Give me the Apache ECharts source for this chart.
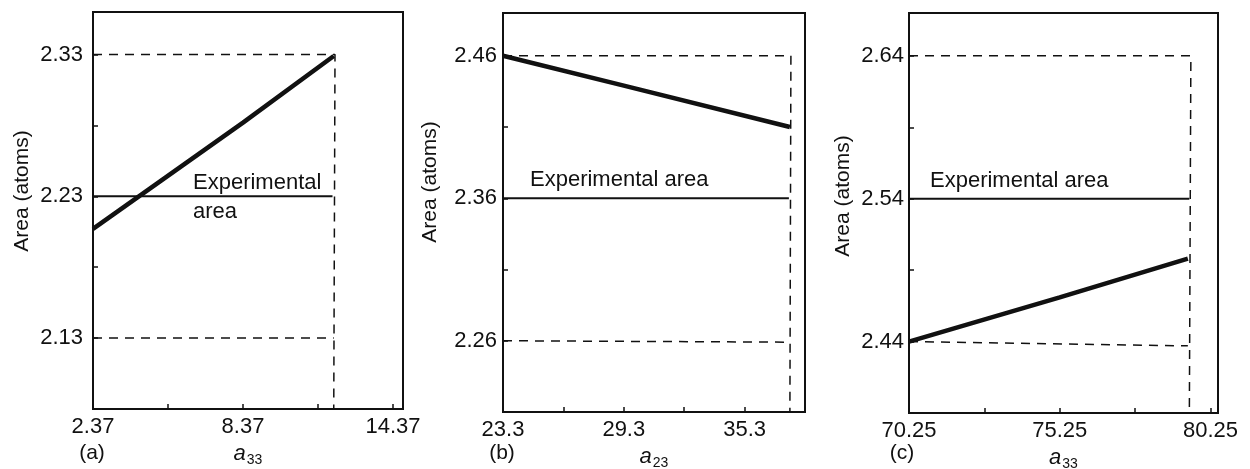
<!DOCTYPE html>
<html>
<head>
<meta charset="utf-8">
<script src="https://cdn.jsdelivr.net/npm/echarts@6/dist/echarts.min.js"></script>
<style>
  html, body { margin: 0; padding: 0; background: #fff; }
  #chart { width: 1250px; height: 469px; }
</style>
</head>
<body>
<div id="chart"></div>
<script>
// panel (a)
const aCurve = [[2.37, 2.207], [8.37, 2.282], [12.0, 2.329]]
const aExperimental = [[2.37, 2.23], [11.95, 2.23]]
const aUpper = [[2.37, 2.33], [12.05, 2.33], [12.0, 2.08]]
const aLower = [[2.37, 2.13], [12.0, 2.13]]
const aXLabels = ['2.37', '8.37', '14.37']
const aYLabels = ['2.13', '2.23', '2.33']

// panel (b)
const bCurve = [[23.3, 2.46], [29.3, 2.439], [37.55, 2.41]]
const bExperimental = [[23.3, 2.36], [37.5, 2.36]]
const bUpper = [[23.3, 2.46], [37.6, 2.46], [37.55, 2.21]]
const bLower = [[23.3, 2.26], [37.55, 2.259]]
const bXLabels = ['23.3', '29.3', '35.3']
const bYLabels = ['2.26', '2.36', '2.46']

// panel (c)
const cCurve = [[70.25, 2.44], [75.25, 2.471], [79.5, 2.498]]
const cExperimental = [[70.25, 2.54], [79.55, 2.54]]
const cUpper = [[70.25, 2.64], [79.6, 2.64], [79.55, 2.39]]
const cLower = [[70.25, 2.44], [79.5, 2.437]]
const cXLabels = ['70.25', '75.25', '80.25']
const cYLabels = ['2.44', '2.54', '2.64']

const FONT = "'Liberation Sans', Arial, sans-serif"
const INK = '#111'

const pickLabel = (list) => (val) => {
  const hit = list.find(s => Math.abs(parseFloat(s) - val) < 1e-6)
  return hit || ''
}

const makeX = (idx, min, max, interval, labels) => ({
  type: 'value',
  gridIndex: idx,
  min: min,
  max: max,
  interval: interval,
  splitLine: { show: false },
  axisLine: { lineStyle: { color: INK, width: 2 } },
  axisTick: { inside: true, length: 5, lineStyle: { color: INK, width: 1.5 } },
  axisLabel: { formatter: pickLabel(labels), color: INK, fontSize: 22, fontFamily: FONT, margin: 7 }
})

const makeY = (idx, min, max, labels, margin) => ({
  type: 'value',
  gridIndex: idx,
  min: min,
  max: max,
  interval: 0.05,
  splitLine: { show: false },
  axisLine: { lineStyle: { color: INK, width: 2 } },
  axisTick: { inside: true, length: 5, lineStyle: { color: INK, width: 1.5 } },
  axisLabel: { formatter: pickLabel(labels), color: INK, fontSize: 22, fontFamily: FONT, margin: margin }
})

const lineSeries = (idx, data, width, type) => ({
  type: 'line',
  xAxisIndex: idx,
  yAxisIndex: idx,
  data: data,
  showSymbol: false,
  silent: true,
  lineStyle: { color: INK, width: width, type: type }
})

const panelSeries = (idx, curve, exp, upper, lower) => [
  lineSeries(idx, upper, 1.5, [9, 7]),
  lineSeries(idx, lower, 1.5, [9, 7]),
  lineSeries(idx, exp, 2, 'solid'),
  lineSeries(idx, curve, 4.5, 'solid')
]

const text = (str, x, y, extra) => ({
  type: 'text',
  x: x,
  y: y,
  silent: true,
  ...(extra || {}),
  style: Object.assign({
    text: str,
    fill: INK,
    font: '21px ' + FONT,
    textAlign: 'center',
    align: 'center',
    textVerticalAlign: 'middle',
    verticalAlign: 'middle'
  }, (extra && extra.styleExtra) || {})
})

const xName = (num) => ({
  name: '{i|a}{s|' + num + '}',
  nameLocation: 'middle',
  nameGap: 31,
  nameTextStyle: {
    rich: {
      i: { fontSize: 22, fontStyle: 'italic', fontFamily: FONT, color: INK },
      s: { fontSize: 14, fontFamily: FONT, color: INK, padding: [12, 0, 0, 1] }
    }
  }
})

const chart = echarts.init(document.getElementById('chart'))

const gridBase = { show: true, borderColor: INK, borderWidth: 2, containLabel: false, outerBoundsMode: 'none' }

const option = {
  backgroundColor: '#fff',
  animation: false,
  grid: [
    Object.assign({ left: 93, width: 310, top: 12, height: 397 }, gridBase),
    Object.assign({ left: 503, width: 302, top: 13, height: 399 }, gridBase),
    Object.assign({ left: 909, width: 309, top: 13, height: 400 }, gridBase)
  ],
  xAxis: [
    Object.assign(makeX(0, 2.37, 14.77, 3, aXLabels), xName('33')),
    Object.assign(makeX(1, 23.3, 38.3, 3, bXLabels), xName('23')),
    Object.assign(makeX(2, 70.25, 80.5, 2.5, cXLabels), xName('33'))
  ],
  yAxis: [
    makeY(0, 2.08, 2.36, aYLabels, 10),
    makeY(1, 2.21, 2.49, bYLabels, 6),
    makeY(2, 2.39, 2.67, cYLabels, 5)
  ],
  graphic: [
    text('Area (atoms)', 22, 191, { rotation: Math.PI / 2 }),
    text('Area (atoms)', 430, 182, { rotation: Math.PI / 2 }),
    text('Area (atoms)', 843, 196, { rotation: Math.PI / 2 }),
    text('(a)', 92, 453),
    text('(b)', 502, 453),
    text('(c)', 902, 453),
    text('Experimental\narea', 193, 197, { styleExtra: { textAlign: 'left', align: 'left', lineHeight: 29, font: '22px ' + FONT } }),
    text('Experimental area', 530, 180, { styleExtra: { textAlign: 'left', align: 'left', font: '22px ' + FONT } }),
    text('Experimental area', 930, 181, { styleExtra: { textAlign: 'left', align: 'left', font: '22px ' + FONT } })
  ],
  series: [
    ...panelSeries(0, aCurve, aExperimental, aUpper, aLower),
    ...panelSeries(1, bCurve, bExperimental, bUpper, bLower),
    ...panelSeries(2, cCurve, cExperimental, cUpper, cLower)
  ]
}

chart.setOption(option)
</script>
</body>
</html>
